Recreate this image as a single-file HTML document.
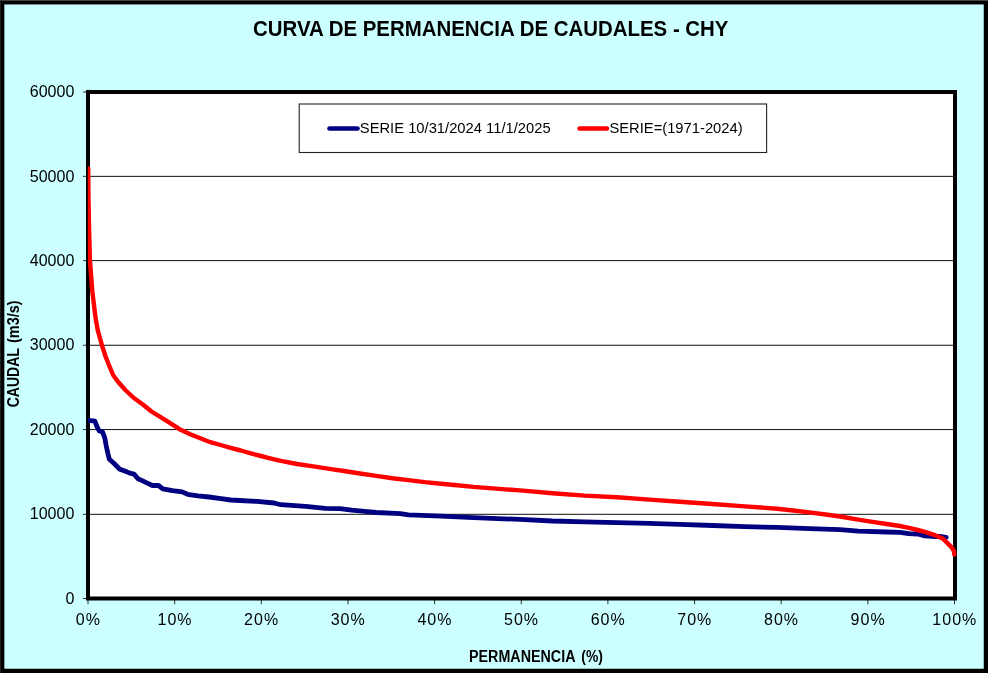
<!DOCTYPE html>
<html><head><meta charset="utf-8"><title>Curva de permanencia de caudales - CHY</title>
<style>html,body{margin:0;padding:0;background:#fff;width:989px;height:674px;overflow:hidden}</style></head>
<body>
<svg width="989" height="674" viewBox="0 0 989 674" style="display:block;position:absolute;left:0;top:0">
<rect x="0" y="0" width="989" height="674" fill="#fff"/>
<rect x="0" y="0" width="988" height="673" fill="#000"/>
<rect x="0" y="0" width="988" height="1" fill="#444"/>
<rect x="0" y="0" width="1" height="673" fill="#222"/>
<rect x="4.35" y="4.45" width="979.4" height="664.3" fill="#ccffff"/>
<rect x="88" y="92" width="867" height="506.5" fill="#fff"/>
<rect x="83" y="91.5" width="3" height="1" fill="#333"/>
<rect x="90" y="175.85" width="863" height="1" fill="#111"/>
<rect x="83" y="175.85" width="3" height="1" fill="#333"/>
<rect x="90" y="260.1" width="863" height="1" fill="#111"/>
<rect x="83" y="260.1" width="3" height="1" fill="#333"/>
<rect x="90" y="344.75" width="863" height="1" fill="#111"/>
<rect x="83" y="344.75" width="3" height="1" fill="#333"/>
<rect x="90" y="429.05" width="863" height="1" fill="#111"/>
<rect x="83" y="429.05" width="3" height="1" fill="#333"/>
<rect x="90" y="513.8" width="863" height="1" fill="#111"/>
<rect x="83" y="513.8" width="3" height="1" fill="#333"/>
<rect x="83" y="598.0" width="3" height="1" fill="#333"/>
<rect x="87.50" y="600" width="1" height="4.2" fill="#333"/>
<rect x="174.15" y="600" width="1" height="4.2" fill="#333"/>
<rect x="260.80" y="600" width="1" height="4.2" fill="#333"/>
<rect x="347.45" y="600" width="1" height="4.2" fill="#333"/>
<rect x="434.10" y="600" width="1" height="4.2" fill="#333"/>
<rect x="520.75" y="600" width="1" height="4.2" fill="#333"/>
<rect x="607.40" y="600" width="1" height="4.2" fill="#333"/>
<rect x="694.05" y="600" width="1" height="4.2" fill="#333"/>
<rect x="780.70" y="600" width="1" height="4.2" fill="#333"/>
<rect x="867.35" y="600" width="1" height="4.2" fill="#333"/>
<rect x="954.00" y="600" width="1" height="4.2" fill="#333"/>
<rect x="88" y="92" width="867" height="506.5" fill="none" stroke="#000" stroke-width="4"/>
<clipPath id="pc"><rect x="87.8" y="90" width="870" height="512"/></clipPath>
<g clip-path="url(#pc)">
<polyline points="88.8,420.4 94.9,421.2 97.0,426.6 99.1,430.8 102.7,432.3 104.8,438.0 106.3,446.3 107.9,453.6 109.4,459.3 114.1,463.5 119.8,469.2 125.5,471.3 129.7,473.1 134.0,474.1 138.0,478.8 142.2,480.6 145.8,482.4 152.4,485.5 158.5,485.5 162.8,488.9 172.5,490.7 182.2,491.9 187.6,494.3 197.9,495.8 208.9,497.0 221.0,498.6 230.7,500.0 240.0,500.5 257.1,501.4 274.2,503.0 280.7,504.7 305.7,506.3 325.4,508.3 339.9,508.7 351.7,510.2 370.0,511.9 376.2,512.5 400.5,513.6 408.5,514.8 440.9,516.1 473.3,517.7 520.0,519.4 552.4,521.0 584.7,521.8 617.1,522.6 649.4,523.4 680.0,524.4 712.4,525.5 744.7,526.6 777.1,527.4 809.4,528.6 840.0,529.6 858.3,531.1 886.6,532.0 900.0,532.4 908.9,533.6 917.8,534.0 924.9,535.8 935.6,536.5 940.0,536.4 946.2,537.3" fill="none" stroke="#000080" stroke-width="4.8" stroke-linejoin="round" stroke-linecap="round"/>
<polyline points="88.2,168.5 88.5,200.0 89.1,230.0 89.9,260.0 92.3,291.0 94.8,312.0 95.9,320.0 97.8,330.4 101.9,345.2 105.5,356.3 109.6,366.7 113.1,375.0 117.8,381.5 125.3,390.0 133.9,398.0 143.2,404.8 151.5,411.5 159.8,416.7 168.2,421.9 176.5,427.1 180.1,429.6 190.2,434.2 200.3,438.3 210.4,442.2 220.6,445.0 230.7,447.9 240.8,450.5 250.9,453.4 261.0,456.0 270.0,458.3 280.9,460.9 297.1,464.0 313.3,466.4 329.4,468.9 345.6,471.3 360.0,473.5 376.2,475.9 392.4,478.3 408.5,480.1 424.7,482.1 440.9,483.7 457.1,485.3 473.3,486.9 489.4,488.1 505.6,489.4 520.0,490.4 552.4,493.2 584.7,495.6 617.1,497.2 649.4,499.6 680.0,501.8 712.4,504.0 744.7,506.4 760.9,507.5 777.1,508.8 793.3,510.5 809.4,512.4 825.6,514.5 840.0,516.5 858.3,519.7 872.5,521.9 886.6,524.0 900.0,526.0 908.9,527.8 917.8,530.0 926.7,532.3 935.6,535.4 942.7,538.5 947.2,542.9 951.6,547.4 953.9,551.0 954.3,554.5" fill="none" stroke="#ff0000" stroke-width="4.4" stroke-linejoin="round" stroke-linecap="round"/>
</g>
<rect x="299.2" y="104.0" width="467.4" height="48.5" fill="#fff" stroke="#222" stroke-width="1.1"/>
<line x1="329.5" y1="128.5" x2="357.5" y2="128.5" stroke="#000080" stroke-width="4.6" stroke-linecap="round"/>
<line x1="579.5" y1="128.5" x2="607" y2="128.5" stroke="#ff0000" stroke-width="4.4" stroke-linecap="round"/>
<text x="359.8" y="133.0" font-family="Liberation Sans, Arial, sans-serif" font-size="15.5" fill="#000" textLength="190.8" lengthAdjust="spacingAndGlyphs">SERIE 10/31/2024 11/1/2025</text>
<text x="609.4" y="133.0" font-family="Liberation Sans, Arial, sans-serif" font-size="15.5" fill="#000" textLength="133.2" lengthAdjust="spacingAndGlyphs">SERIE=(1971-2024)</text>
<text x="253" y="35.700" font-family="Liberation Sans, Arial, sans-serif" font-size="21.5" font-weight="bold" fill="#000" textLength="475.5" lengthAdjust="spacingAndGlyphs">CURVA DE PERMANENCIA DE CAUDALES - CHY</text>
<text y="662" font-family="Liberation Sans, Arial, sans-serif" font-size="15.6" font-weight="bold" fill="#000"><tspan x="469" textLength="106.5" lengthAdjust="spacingAndGlyphs">PERMANENCIA</tspan><tspan x="577.5" textLength="25.5" lengthAdjust="spacingAndGlyphs"> (%)</tspan></text>
<text transform="translate(18.6,407.3) rotate(-90)" font-family="Liberation Sans, Arial, sans-serif" font-size="15.6" font-weight="bold" fill="#000"><tspan x="0" textLength="59" lengthAdjust="spacingAndGlyphs">CAUDAL</tspan><tspan> </tspan><tspan x="64.3" textLength="42.6" lengthAdjust="spacingAndGlyphs">(m3/s)</tspan></text>
<text x="74.3" y="96.5" font-family="Liberation Sans, Arial, sans-serif" font-size="16" fill="#000" text-anchor="end">60000</text>
<text x="74.3" y="181.5" font-family="Liberation Sans, Arial, sans-serif" font-size="16" fill="#000" text-anchor="end">50000</text>
<text x="74.3" y="265.5" font-family="Liberation Sans, Arial, sans-serif" font-size="16" fill="#000" text-anchor="end">40000</text>
<text x="74.3" y="349.5" font-family="Liberation Sans, Arial, sans-serif" font-size="16" fill="#000" text-anchor="end">30000</text>
<text x="74.3" y="434.5" font-family="Liberation Sans, Arial, sans-serif" font-size="16" fill="#000" text-anchor="end">20000</text>
<text x="74.3" y="518.5" font-family="Liberation Sans, Arial, sans-serif" font-size="16" fill="#000" text-anchor="end">10000</text>
<text x="74.3" y="603.5" font-family="Liberation Sans, Arial, sans-serif" font-size="16" fill="#000" text-anchor="end">0</text>
<text x="88.3" y="625" font-family="Liberation Sans, Arial, sans-serif" font-size="16" fill="#000" text-anchor="middle" letter-spacing="1">0%</text>
<text x="175.0" y="625" font-family="Liberation Sans, Arial, sans-serif" font-size="16" fill="#000" text-anchor="middle" letter-spacing="1">10%</text>
<text x="261.6" y="625" font-family="Liberation Sans, Arial, sans-serif" font-size="16" fill="#000" text-anchor="middle" letter-spacing="1">20%</text>
<text x="348.2" y="625" font-family="Liberation Sans, Arial, sans-serif" font-size="16" fill="#000" text-anchor="middle" letter-spacing="1">30%</text>
<text x="434.9" y="625" font-family="Liberation Sans, Arial, sans-serif" font-size="16" fill="#000" text-anchor="middle" letter-spacing="1">40%</text>
<text x="521.5" y="625" font-family="Liberation Sans, Arial, sans-serif" font-size="16" fill="#000" text-anchor="middle" letter-spacing="1">50%</text>
<text x="608.2" y="625" font-family="Liberation Sans, Arial, sans-serif" font-size="16" fill="#000" text-anchor="middle" letter-spacing="1">60%</text>
<text x="694.8" y="625" font-family="Liberation Sans, Arial, sans-serif" font-size="16" fill="#000" text-anchor="middle" letter-spacing="1">70%</text>
<text x="781.5" y="625" font-family="Liberation Sans, Arial, sans-serif" font-size="16" fill="#000" text-anchor="middle" letter-spacing="1">80%</text>
<text x="868.1" y="625" font-family="Liberation Sans, Arial, sans-serif" font-size="16" fill="#000" text-anchor="middle" letter-spacing="1">90%</text>
<text x="954.8" y="625" font-family="Liberation Sans, Arial, sans-serif" font-size="16" fill="#000" text-anchor="middle" letter-spacing="1">100%</text>
</svg>
</body></html>
